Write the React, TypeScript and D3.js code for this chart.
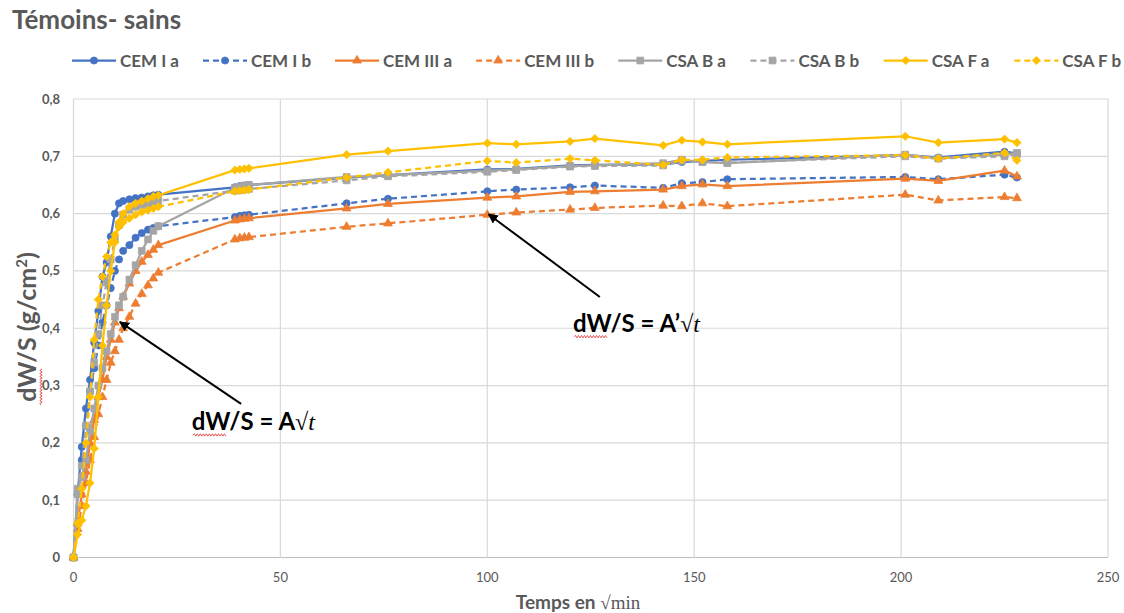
import React from 'react';
import * as d3 from 'd3';

// √min values (x)
const sqrtMinutes = [0, 1, 2, 3, 4, 5, 6, 7, 8, 9, 10, 11, 12, 13.5, 15, 16.5, 18, 19.3, 20.5,
  39, 40.2, 41.3, 42.4, 66, 76, 100, 107, 120, 126, 142.5, 147, 152, 158, 201, 209, 225, 228];

const seriesNames = ['CEM I a', 'CEM I b', 'CEM III a', 'CEM III b', 'CSA B a', 'CSA B b', 'CSA F a', 'CSA F b'];

const cemIa = [0, 0.11, 0.193, 0.26, 0.31, 0.375, 0.43, 0.49, 0.515, 0.56, 0.60, 0.618, 0.622, 0.625, 0.627, 0.628, 0.630, 0.632, 0.633,
  0.646, 0.648, 0.649, 0.650, 0.663, 0.667, 0.677, 0.678, 0.684, 0.685, 0.686, 0.690, 0.692, 0.694, 0.702, 0.698, 0.708, 0.705];
const cemIb = [0, 0.11, 0.17, 0.23, 0.29, 0.33, 0.37, 0.41, 0.44, 0.47, 0.50, 0.52, 0.535, 0.545, 0.558, 0.566, 0.572, 0.575, 0.578,
  0.594, 0.596, 0.597, 0.598, 0.618, 0.626, 0.639, 0.642, 0.646, 0.649, 0.645, 0.653, 0.655, 0.660, 0.664, 0.660, 0.668, 0.663];
const cemIIIa = [0, 0.06, 0.11, 0.15, 0.20, 0.24, 0.28, 0.31, 0.35, 0.38, 0.41, 0.435, 0.455, 0.478, 0.50, 0.516, 0.528, 0.537, 0.545,
  0.588, 0.590, 0.591, 0.592, 0.609, 0.617, 0.628, 0.630, 0.638, 0.639, 0.642, 0.648, 0.651, 0.648, 0.661, 0.657, 0.675, 0.665];
const cemIIIb = [0, 0.05, 0.09, 0.13, 0.17, 0.21, 0.25, 0.28, 0.31, 0.34, 0.36, 0.38, 0.40, 0.42, 0.443, 0.46, 0.475, 0.487, 0.497,
  0.555, 0.557, 0.558, 0.559, 0.577, 0.583, 0.598, 0.602, 0.607, 0.610, 0.614, 0.613, 0.618, 0.613, 0.633, 0.623, 0.629, 0.627];
const csaBa = [0, 0.12, 0.14, 0.17, 0.22, 0.26, 0.30, 0.33, 0.36, 0.39, 0.42, 0.44, 0.455, 0.485, 0.51, 0.535, 0.555, 0.57, 0.578,
  0.645, 0.647, 0.649, 0.650, 0.664, 0.667, 0.675, 0.677, 0.683, 0.684, 0.688, 0.694, 0.690, 0.688, 0.703, 0.697, 0.703, 0.706];
const csaBb = [0, 0.11, 0.16, 0.23, 0.29, 0.34, 0.39, 0.44, 0.48, 0.52, 0.555, 0.58, 0.598, 0.607, 0.612, 0.615, 0.617, 0.62, 0.622,
  0.640, 0.641, 0.642, 0.643, 0.658, 0.665, 0.673, 0.676, 0.682, 0.683, 0.684, 0.692, 0.690, 0.689, 0.700, 0.696, 0.700, 0.704];
const csaFa = [0, 0.04, 0.065, 0.09, 0.13, 0.19, 0.28, 0.37, 0.44, 0.50, 0.55, 0.585, 0.60, 0.612, 0.618, 0.622, 0.626, 0.63, 0.632,
  0.676, 0.677, 0.678, 0.679, 0.703, 0.709, 0.723, 0.721, 0.726, 0.731, 0.719, 0.728, 0.725, 0.721, 0.735, 0.724, 0.730, 0.724];
const csaFb = [0, 0.06, 0.12, 0.2, 0.28, 0.38, 0.45, 0.49, 0.525, 0.55, 0.563, 0.577, 0.585, 0.592, 0.598, 0.603, 0.606, 0.609, 0.612,
  0.639, 0.640, 0.641, 0.642, 0.663, 0.672, 0.692, 0.689, 0.696, 0.693, 0.685, 0.694, 0.694, 0.698, 0.702, 0.696, 0.706, 0.693];

const seriesValues = [cemIa, cemIb, cemIIIa, cemIIIb, csaBa, csaBb, csaFa, csaFb];

const xTicks = [0, 50, 100, 150, 200, 250];
const yTicks = [0, 0.1, 0.2, 0.3, 0.4, 0.5, 0.6, 0.7, 0.8];

const colors = ['#4472C4', '#4472C4', '#ED7D31', '#ED7D31', '#A5A5A5', '#A5A5A5', '#FFC000', '#FFC000'];
const dashed = [false, true, false, true, false, true, false, true];
const shapes = ['circle', 'circle', 'triangle', 'triangle', 'square', 'square', 'diamond', 'diamond'];

const W = 1124;
const H = 613;
const FONT = 'Lato, "Open Sans", sans-serif';
const GRAY = '#595959';

function symbolPath(shape: string) {
  if (shape === 'circle') return d3.symbol(d3.symbolCircle, 40)()!;
  if (shape === 'triangle') return d3.symbol(d3.symbolTriangle, 34)()!;
  if (shape === 'square') return d3.symbol(d3.symbolSquare, 46)()!;
  return d3.symbol(d3.symbolSquare, 34)()!;
}

function wavy(x0: number, x1: number, yb: number) {
  let d = `M${x0},${yb}`;
  let up = true;
  for (let xx = x0 + 1.5; xx <= x1; xx += 1.5) {
    d += `L${xx},${yb + (up ? -1.2 : 1.2)}`;
    up = !up;
  }
  return d;
}

export default function App() {
  const x = d3.scaleLinear().domain([0, 250]).range([73.5, 1108]);
  const y = d3.scaleLinear().domain([0, 0.8]).range([557.5, 99]);

  const line = d3.line<[number, number]>().x(d => x(d[0])).y(d => y(d[1]));

  // legend layout
  const LEG_FS = 17;
  let measure = (s: string) => s.length * 9;
  try {
    const ctx = document.createElement('canvas').getContext('2d');
    if (ctx) {
      ctx.font = `bold ${LEG_FS}px ${FONT}`;
      measure = (s: string) => ctx.measureText(s).width;
    }
  } catch (e) { /* ignore */ }
  const lineLen = 44;
  const gap = 24;
  const widths = seriesNames.map(n => lineLen + 4 + measure(n));
  const total = d3.sum(widths) + gap * (seriesNames.length - 1);
  let cursor = 597 - total / 2;
  const legendX = widths.map(w => { const s = cursor; cursor += w + gap; return s; });
  const legendY = 60.5;

  const annotations = [
    { tail: [40.5, 0.268], tip: [11.2, 0.411], text: [28.6, 0.2225], prime: false },
    { tail: [127.2, 0.4546], tip: [100.3, 0.599], text: [120.7, 0.394], prime: true },
  ];

  return (
    <svg width={W} height={H} style={{ position: 'absolute', left: 0, top: 0, background: '#fff' }}>
      <rect width={W} height={H} fill="#fff" />
      <text x={12} y={29} fontFamily={FONT} fontWeight="bold" fontSize={26} fill={GRAY}>Témoins- sains</text>

      {/* grid */}
      {yTicks.map(t => (
        <line key={'gy' + t} x1={x(0)} x2={x(250)} y1={y(t)} y2={y(t)} stroke={t === 0 ? '#bfbfbf' : '#d9d9d9'} strokeWidth={1.2} />
      ))}
      {xTicks.map(t => (
        <line key={'gx' + t} x1={x(t)} x2={x(t)} y1={y(0)} y2={y(0.8)} stroke="#d9d9d9" strokeWidth={1.2} />
      ))}

      {/* y tick labels */}
      {yTicks.map(t => (
        <text key={'ty' + t} x={60} y={y(t) + 4.5} textAnchor="end" fontFamily={FONT} fontWeight="bold" fontSize={13} fill={GRAY}>
          {t === 0 ? '0' : d3.format('.1f')(t).replace('.', ',')}
        </text>
      ))}
      {xTicks.map(t => (
        <text key={'tx' + t} x={x(t)} y={582} textAnchor="middle" fontFamily={FONT} fontSize={13} fill={GRAY}>{t}</text>
      ))}

      {/* axis titles */}
      <text x={578} y={609} textAnchor="middle" fontSize={19} fill={GRAY}>
        <tspan fontFamily={FONT} fontWeight="bold">Temps en </tspan>
        <tspan fontFamily='"Liberation Serif", serif'>√min</tspan>
      </text>
      <g transform="translate(36,327) rotate(-90)">
        <text x={0} y={0} textAnchor="middle" fontFamily={FONT} fontWeight="bold" fontSize={25} fill={GRAY}>
          dW/S (g/cm<tspan baseline-shift="super" fontSize={15}>2</tspan>)
        </text>
        <path d={wavy(-78, -42, 5)} fill="none" stroke="#e03030" strokeWidth={0.8} />
      </g>

      {/* series */}
      {seriesValues.map((vals, i) => {
        const pts = sqrtMinutes.map((xv, j) => [xv, vals[j]] as [number, number]);
        const sym = symbolPath(shapes[i]);
        return (
          <g key={seriesNames[i]}>
            <path d={line(pts)!} fill="none" stroke={colors[i]} strokeWidth={2.25}
              strokeDasharray={dashed[i] ? '6,4' : undefined} strokeLinejoin="round" />
            {pts.map((p, j) => (
              <path key={j} d={sym} fill={colors[i]} stroke={colors[i]} strokeWidth={0.75}
                transform={`translate(${x(p[0])},${y(p[1])})${shapes[i] === 'diamond' ? ' rotate(45)' : ''}`} />
            ))}
          </g>
        );
      })}

      {/* legend */}
      {seriesNames.map((n, i) => {
        const lx = legendX[i];
        const sym = symbolPath(shapes[i]);
        return (
          <g key={'lg' + n}>
            <line x1={lx} x2={lx + lineLen} y1={legendY} y2={legendY} stroke={colors[i]} strokeWidth={2.25}
              strokeDasharray={dashed[i] ? '6,4' : undefined} />
            <path d={sym} fill={colors[i]} stroke={colors[i]} strokeWidth={0.75}
              transform={`translate(${lx + lineLen / 2},${legendY})${shapes[i] === 'diamond' ? ' rotate(45)' : ''}`} />
            <text x={lx + lineLen + 4} y={legendY + 6} fontFamily={FONT} fontWeight="bold" fontSize={LEG_FS} fill={GRAY}>{n}</text>
          </g>
        );
      })}

      {/* annotations */}
      <defs>
        <marker id="ah" viewBox="0 0 10 10" refX="9" refY="5" markerWidth="5" markerHeight="5" orient="auto">
          <path d="M0,0L10,5L0,10z" fill="#000" />
        </marker>
      </defs>
      {annotations.map((a, i) => {
        const tx = x(a.text[0]);
        const ty = y(a.text[1]);
        return (
          <g key={'an' + i}>
            <line x1={x(a.tail[0])} y1={y(a.tail[1])} x2={x(a.tip[0])} y2={y(a.tip[1])} stroke="#000" strokeWidth={2} markerEnd="url(#ah)" />
            <text x={tx} y={ty} fontSize={24} fill="#000">
              <tspan fontFamily={FONT} fontWeight="bold">{a.prime ? 'dW/S = A’' : 'dW/S = A'}</tspan>
              <tspan fontFamily='"Liberation Serif", serif'>√</tspan>
              <tspan fontFamily='"Liberation Serif", serif' fontStyle="italic">t</tspan>
            </text>
            <path d={wavy(tx + 1, tx + 34, ty + 5)} fill="none" stroke="#e03030" strokeWidth={0.8} />
          </g>
        );
      })}
    </svg>
  );
}
